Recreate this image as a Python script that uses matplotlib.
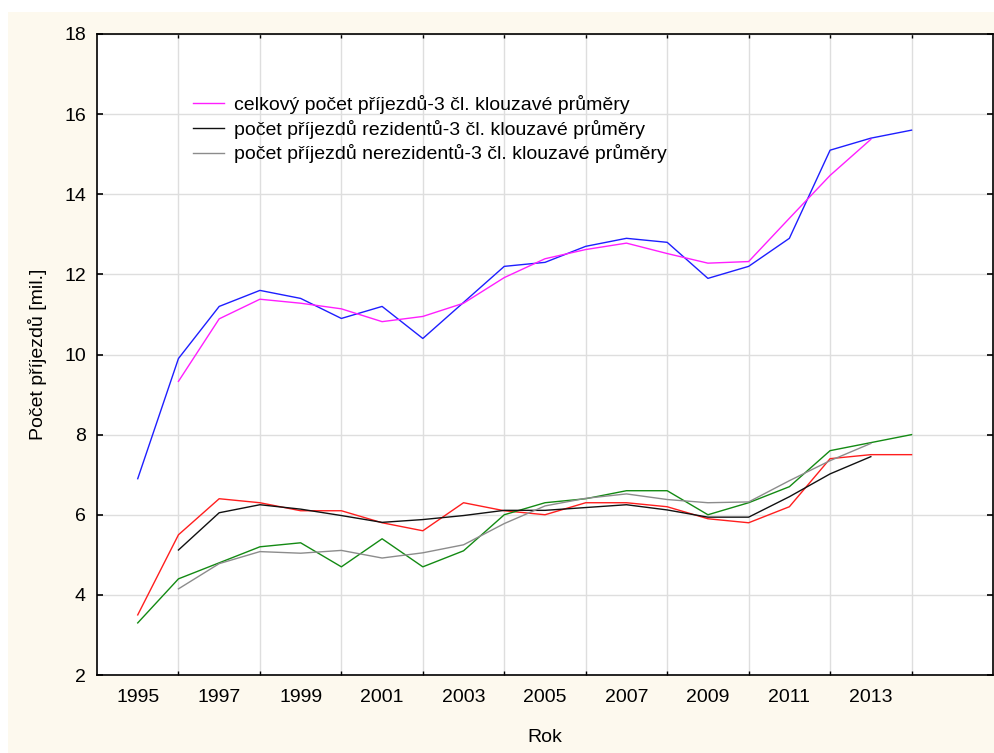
import matplotlib
matplotlib.use("Agg")
import matplotlib.pyplot as plt
from matplotlib.patches import Rectangle
from matplotlib.ticker import MultipleLocator, FixedLocator

plt.rcParams['font.family'] = ['Liberation Sans', 'DejaVu Sans']

years = list(range(1995, 2015))
years_ma = list(range(1996, 2014))

celkem = [6.9, 9.9, 11.2, 11.6, 11.4, 10.9, 11.2, 10.4, 11.3, 12.2,
          12.3, 12.7, 12.9, 12.8, 11.9, 12.2, 12.9, 15.1, 15.4, 15.6]
celkem_ma = [9.33, 10.89, 11.38, 11.28, 11.14, 10.82, 10.95, 11.28, 11.92,
             12.39, 12.62, 12.78, 12.52, 12.28, 12.32, 13.40, 14.47, 15.37]

rezidenti = [3.5, 5.5, 6.4, 6.3, 6.1, 6.1, 5.8, 5.6, 6.3, 6.1,
             6.0, 6.3, 6.3, 6.2, 5.9, 5.8, 6.2, 7.4, 7.5, 7.5]
rezidenti_ma = [5.12, 6.05, 6.25, 6.14, 5.98, 5.81, 5.88, 5.98, 6.11,
                6.11, 6.18, 6.25, 6.12, 5.94, 5.94, 6.45, 7.02, 7.45]

nerezidenti = [3.3, 4.4, 4.8, 5.2, 5.3, 4.7, 5.4, 4.7, 5.1, 6.0,
               6.3, 6.4, 6.6, 6.6, 6.0, 6.3, 6.7, 7.6, 7.8, 8.0]
nerezidenti_ma = [4.15, 4.78, 5.08, 5.04, 5.11, 4.92, 5.05, 5.25, 5.78,
                  6.22, 6.41, 6.52, 6.38, 6.30, 6.32, 6.85, 7.35, 7.78]

labels = ["celkový počet příjezdů-3 čl. klouzavé průměry",
          "počet příjezdů rezidentů-3 čl. klouzavé průměry",
          "počet příjezdů nerezidentů-3 čl. klouzavé průměry"]

fig = plt.figure(figsize=(9.95, 7.53), dpi=100, facecolor='white')
bg = Rectangle((8/995, 0), 1, (753-12)/753, transform=fig.transFigure,
               facecolor='#FDF9EE', edgecolor='none', zorder=-10)
fig.add_artist(bg)
ax = fig.add_axes([97/995, (753-675)/753, (993-97)/995, (675-34)/753])
ax.set_zorder(1)
ax.set_facecolor('white')

lw = 1.0
ax.plot(years, celkem, color='#1E1EFF', lw=lw)
ax.plot(years, rezidenti, color='#FF1E1E', lw=lw)
ax.plot(years, nerezidenti, color='#138A13', lw=lw)
l1, = ax.plot(years_ma, celkem_ma, color='#FF1EFF', lw=lw)
l2, = ax.plot(years_ma, rezidenti_ma, color='#111111', lw=lw)
l3, = ax.plot(years_ma, nerezidenti_ma, color='#8C8C8C', lw=lw)

fs = 14
ax.set_xlim(1994, 2016)
ax.set_ylim(2, 18)
ax.yaxis.set_major_locator(MultipleLocator(2))
ax.xaxis.set_major_locator(FixedLocator(list(range(1995, 2015, 2))))
ax.xaxis.set_minor_locator(FixedLocator(list(range(1996, 2016, 2))))
ax.tick_params(axis='x', which='major', length=0, pad=10, labelsize=fs)
ax.tick_params(axis='x', which='minor', direction='in', length=3, width=1,
               top=True, bottom=True)
ax.tick_params(axis='y', which='major', direction='in', length=4, width=1.2,
               left=True, right=True, pad=8, labelsize=fs)
ax.grid(True, axis='x', which='minor', color='#DEDEDE', lw=1)
ax.grid(True, axis='y', which='major', color='#DEDEDE', lw=1)
ax.set_axisbelow(True)
for s in ax.spines.values():
    s.set_linewidth(1.2)
    s.set_color('black')

ax.set_xlabel('Rok', fontsize=fs, labelpad=17)
ax.set_ylabel('Počet příjezdů [mil.]', fontsize=fs, labelpad=12)

ax.legend([l1, l2, l3], labels, loc='upper left', bbox_to_anchor=(88/896, 1-53/641),
          frameon=False, fontsize=fs, handlelength=1.6, handletextpad=0.5,
          labelspacing=0.3, borderaxespad=0)

fig.savefig('out.png', dpi=100, facecolor='white')
